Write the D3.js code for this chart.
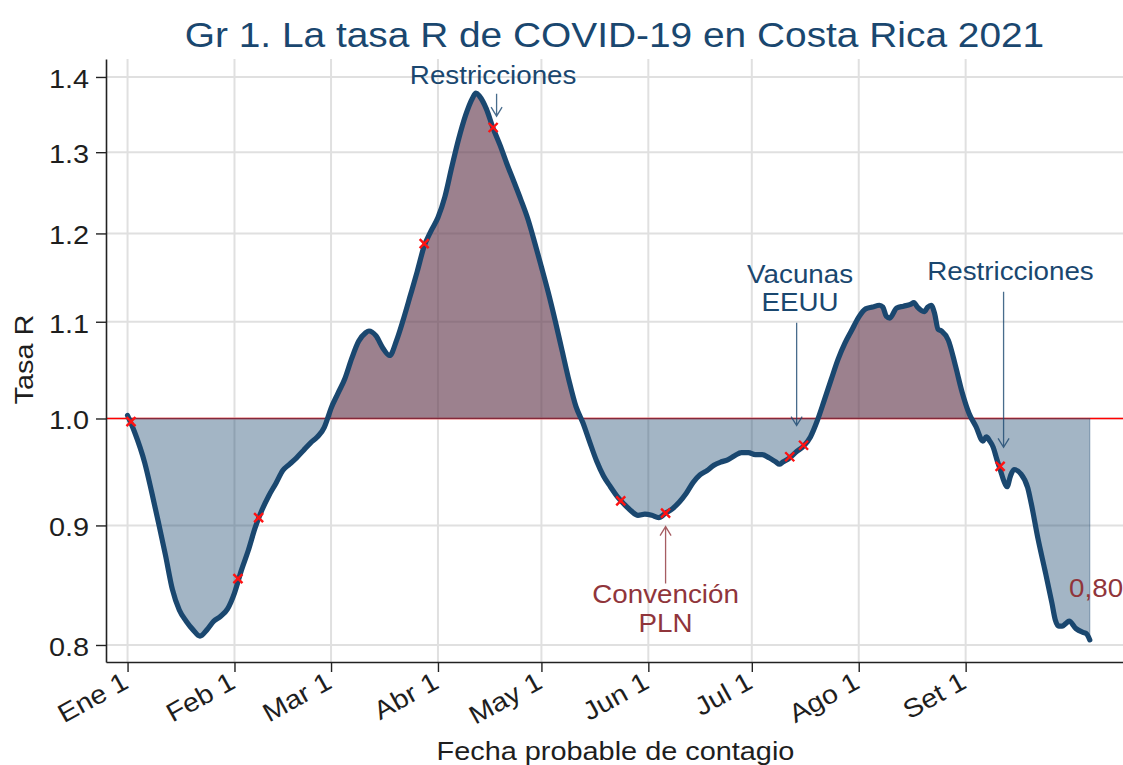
<!DOCTYPE html>
<html>
<head>
<meta charset="utf-8">
<script src="https://cdn.jsdelivr.net/npm/d3@7"></script>
<style>
  body { margin: 0; background: #fff; }
  text { font-family: "Liberation Sans", Arial, sans-serif; }
</style>
</head>
<body>
<svg id="chart" width="1123" height="765"></svg>
<script>
// fecha probable de contagio y tasa R
const dates = [
  '2021-01-01','2021-01-03','2021-01-06','2021-01-08','2021-01-10','2021-01-12','2021-01-14','2021-01-16',
  '2021-01-18','2021-01-20','2021-01-22','2021-01-24','2021-01-26','2021-01-28','2021-01-30','2021-02-01',
  '2021-02-03','2021-02-05','2021-02-07','2021-02-09','2021-02-11','2021-02-13','2021-02-15','2021-02-17',
  '2021-02-19','2021-02-21','2021-02-23','2021-02-25','2021-02-27','2021-02-28','2021-03-01','2021-03-03',
  '2021-03-05','2021-03-07','2021-03-09','2021-03-11','2021-03-12','2021-03-14','2021-03-16','2021-03-18',
  '2021-03-20','2021-03-22','2021-03-24','2021-03-26','2021-03-28','2021-03-30','2021-04-01','2021-04-03',
  '2021-04-05','2021-04-07','2021-04-09','2021-04-11','2021-04-12','2021-04-13','2021-04-15','2021-04-17',
  '2021-04-19','2021-04-21','2021-04-23','2021-04-25','2021-04-27','2021-04-29','2021-05-01','2021-05-03',
  '2021-05-05','2021-05-07','2021-05-09','2021-05-11','2021-05-13','2021-05-15','2021-05-17','2021-05-19',
  '2021-05-21','2021-05-23','2021-05-25','2021-05-27','2021-05-29','2021-05-31','2021-06-02','2021-06-04',
  '2021-06-06','2021-06-08','2021-06-10','2021-06-12','2021-06-14','2021-06-16','2021-06-18','2021-06-20',
  '2021-06-22','2021-06-24','2021-06-26','2021-06-28','2021-06-30','2021-07-02','2021-07-04','2021-07-06',
  '2021-07-08','2021-07-09','2021-07-10','2021-07-12','2021-07-14','2021-07-16','2021-07-18','2021-07-20',
  '2021-07-22','2021-07-24','2021-07-26','2021-07-28','2021-07-30','2021-08-01','2021-08-03','2021-08-05',
  '2021-08-07','2021-08-08','2021-08-09','2021-08-10','2021-08-12','2021-08-14','2021-08-16','2021-08-17',
  '2021-08-18','2021-08-20','2021-08-21','2021-08-22','2021-08-23','2021-08-24','2021-08-25','2021-08-27',
  '2021-08-29','2021-08-31','2021-09-02','2021-09-04','2021-09-06','2021-09-07','2021-09-08','2021-09-09',
  '2021-09-10','2021-09-11','2021-09-12','2021-09-13','2021-09-14','2021-09-15','2021-09-17','2021-09-19',
  '2021-09-20','2021-09-22','2021-09-24','2021-09-26','2021-09-27','2021-09-28','2021-09-29','2021-09-30',
  '2021-10-01','2021-10-03','2021-10-05','2021-10-06','2021-10-07'
];
const rValues = [
  1.003,0.987,0.957,0.930,0.902,0.874,0.845,0.828,
  0.819,0.812,0.807,0.812,0.819,0.823,0.829,0.842,
  0.861,0.878,0.898,0.914,0.927,0.938,0.950,0.956,
  0.962,0.969,0.976,0.982,0.991,1.000,1.010,1.025,
  1.040,1.061,1.079,1.088,1.090,1.085,1.072,1.064,
  1.080,1.103,1.129,1.156,1.185,1.203,1.219,1.244,
  1.281,1.317,1.348,1.371,1.378,1.374,1.357,1.331,
  1.309,1.285,1.263,1.241,1.218,1.190,1.161,1.132,
  1.101,1.069,1.038,1.012,0.996,0.977,0.959,0.945,
  0.935,0.926,0.919,0.913,0.909,0.910,0.909,0.907,
  0.911,0.915,0.921,0.929,0.939,0.946,0.950,0.955,
  0.958,0.960,0.964,0.967,0.967,0.965,0.965,0.962,
  0.958,0.956,0.958,0.962,0.968,0.973,0.982,0.998,
  1.018,1.039,1.060,1.077,1.091,1.105,1.114,1.116,
  1.118,1.116,1.106,1.104,1.115,1.117,1.119,1.121,
  1.116,1.111,1.116,1.118,1.109,1.092,1.090,1.080,
  1.054,1.026,1.005,0.992,0.978,0.982,0.978,0.972,
  0.961,0.951,0.941,0.935,0.945,0.951,0.947,0.934,
  0.920,0.888,0.861,0.834,0.820,0.815,0.815,0.817,
  0.819,0.813,0.810,0.809,0.804
];

// marcas rojas
const markDates = ['2021-01-02','2021-02-02','2021-02-08','2021-03-28','2021-04-17',
                   '2021-05-24','2021-06-06','2021-07-12','2021-07-16','2021-09-11'];
const markValues = [0.997,0.854,0.907,1.188,1.332,0.922,0.911,0.963,0.974,0.954];

const monthTicks = ['2021-01-01','2021-02-01','2021-03-01','2021-04-01','2021-05-01',
                    '2021-06-01','2021-07-01','2021-08-01','2021-09-01'];
const monthLabels = ['Ene 1','Feb 1','Mar 1','Abr 1','May 1','Jun 1','Jul 1','Ago 1','Set 1'];
const yTicks = [0.8, 0.9, 1.0, 1.1, 1.2, 1.3, 1.4];

// anotaciones
const noteText = [['Restricciones'], ['Vacunas', 'EEUU'], ['Restricciones'], ['Convención', 'PLN']];
const noteDates = ['2021-04-17','2021-07-15','2021-09-14','2021-06-06'];
const noteR = [1.391, 1.143, 1.146, 0.8335];
const arrowDates = ['2021-04-18','2021-07-14','2021-09-12','2021-06-06'];
const arrowFrom = [1.377, 1.099, 1.133, 0.850];
const arrowTo = [1.347, 0.993, 0.972, 0.899];
const lastLabelDate = '2021-10-01';
const lastLabelR = 0.8387;

const navy = '#1a476f';
const maroon = '#90353b';
const noteColor = [navy, navy, navy, maroon];

const parse = d3.utcParse('%Y-%m-%d');
const data = dates.map((d, i) => ({date: parse(d), r: rValues[i]}));

const svg = d3.select('#chart');
const width = +svg.attr('width');
const height = +svg.attr('height');
const margin = {top: 59, right: 0, bottom: 103, left: 106};
const innerW = width - margin.left - margin.right;
const innerH = height - margin.top - margin.bottom;
const g = svg.append('g').attr('transform', `translate(${margin.left},${margin.top})`);

const x = d3.scaleUtc()
  .domain([new Date('2020-12-25T18:00Z'), new Date('2021-10-16T15:00Z')])
  .range([0, innerW]);
const y = d3.scaleLog()
  .domain([0.7867, 1.425])
  .range([innerH, 0]);

// stretch text a bit wider, like the original rendering
function widen(sel) {
  sel.each(function() {
    const w = this.getComputedTextLength();
    this.setAttribute('textLength', w * 1.11);
    this.setAttribute('lengthAdjust', 'spacingAndGlyphs');
  });
}

// grid
g.append('g').selectAll('line').data(yTicks).join('line')
  .attr('x1', 0).attr('x2', innerW)
  .attr('y1', d => y(d)).attr('y2', d => y(d))
  .attr('stroke', '#e0e0e0').attr('stroke-width', 2);
g.append('g').selectAll('line').data(monthTicks.map(parse)).join('line')
  .attr('x1', d => x(d)).attr('x2', d => x(d))
  .attr('y1', 0).attr('y2', innerH)
  .attr('stroke', '#e0e0e0').attr('stroke-width', 2);

// linea R = 1
g.append('line')
  .attr('x1', 0).attr('x2', innerW)
  .attr('y1', y(1)).attr('y2', y(1))
  .attr('stroke', '#ff0000').attr('stroke-width', 1.6);

// areas
const area = d3.area()
  .x(d => x(d.date))
  .y0(y(1))
  .y1(d => y(d.r))
  .curve(d3.curveMonotoneX);

svg.append('defs').append('clipPath').attr('id', 'above')
  .append('rect').attr('x', 0).attr('y', 0).attr('width', innerW).attr('height', y(1));

g.append('path').datum(data)
  .attr('d', area)
  .attr('fill', navy).attr('fill-opacity', 0.4)
  .attr('stroke', navy).attr('stroke-opacity', 0.45).attr('stroke-width', 1);
g.append('path').datum(data)
  .attr('d', area)
  .attr('clip-path', 'url(#above)')
  .attr('fill', maroon).attr('fill-opacity', 0.4)
  .attr('stroke', maroon).attr('stroke-opacity', 0.45).attr('stroke-width', 1);

// curva
const line = d3.line()
  .x(d => x(d.date))
  .y(d => y(d.r))
  .curve(d3.curveMonotoneX);
g.append('path').datum(data)
  .attr('d', line)
  .attr('fill', 'none')
  .attr('stroke', navy).attr('stroke-width', 5.2)
  .attr('stroke-linejoin', 'round').attr('stroke-linecap', 'round');

// marcas
g.append('g').selectAll('path').data(markDates.map((d, i) => ({date: parse(d), r: markValues[i]})))
  .join('path')
  .attr('transform', d => `translate(${x(d.date)},${y(d.r)})`)
  .attr('d', 'M-4.5,-4.5L4.5,4.5M-4.5,4.5L4.5,-4.5')
  .attr('stroke', '#ff1212').attr('stroke-width', 2.4);

// flechas
arrowDates.forEach((d, i) => {
  const ax = x(parse(d));
  const y1 = y(arrowFrom[i]);
  const y2 = y(arrowTo[i]);
  const dir = y2 > y1 ? 1 : -1;
  const col = noteColor[i];
  g.append('path')
    .attr('d', `M${ax},${y1}L${ax},${y2}M${ax - 5.5},${y2 - 9 * dir}L${ax},${y2}L${ax + 5.5},${y2 - 9 * dir}`)
    .attr('fill', 'none')
    .attr('stroke', col).attr('stroke-width', 1.3).attr('stroke-opacity', 0.8);
});

// textos de anotacion
noteText.forEach((lines, i) => {
  const tx = x(parse(noteDates[i]));
  const ty = y(noteR[i]);
  lines.forEach((t, j) => {
    g.append('text')
      .attr('x', tx).attr('y', ty + j * 28.5)
      .attr('text-anchor', 'middle')
      .attr('font-size', 25)
      .attr('fill', noteColor[i])
      .text(t)
      .call(widen);
  });
});

const commaFmt = d3.formatLocale({decimal: ',', thousands: '.', grouping: [3], currency: ['', '']}).format('.2f');
g.append('text')
  .attr('x', x(parse(lastLabelDate))).attr('y', y(lastLabelR))
  .attr('font-size', 25)
  .attr('fill', maroon)
  .text(commaFmt(rValues[rValues.length - 1]))
  .call(widen);

// ejes
const yAxis = d3.axisLeft(y)
  .tickValues(yTicks)
  .tickFormat(d3.format('.1f'))
  .tickSize(10).tickSizeOuter(0).tickPadding(7);
const yAxisG = g.append('g').call(yAxis);
yAxisG.select('.domain').attr('stroke', '#222').attr('stroke-width', 1.6);
yAxisG.selectAll('.tick line').attr('stroke', '#222').attr('stroke-width', 1.4);
yAxisG.selectAll('.tick text')
  .attr('font-size', 26).attr('fill', '#1e1e1e')
  .attr('font-family', '"Liberation Sans", Arial, sans-serif')
  .attr('dy', '0.4em')
  .call(widen);

const xAxis = d3.axisBottom(x)
  .tickValues(monthTicks.map(parse))
  .tickFormat((d, i) => monthLabels[i])
  .tickSize(10).tickSizeOuter(0);
const xAxisG = g.append('g').attr('transform', `translate(0,${innerH})`).call(xAxis);
xAxisG.select('.domain').attr('stroke', '#222').attr('stroke-width', 1.6);
xAxisG.selectAll('.tick line').attr('stroke', '#222').attr('stroke-width', 1.4);
xAxisG.selectAll('.tick text')
  .attr('font-size', 26).attr('fill', '#1e1e1e')
  .attr('font-family', '"Liberation Sans", Arial, sans-serif')
  .attr('x', 0).attr('y', 0).attr('dy', 0)
  .attr('text-anchor', 'end')
  .attr('transform', 'translate(2,25) rotate(-29)')
  .call(widen);

// titulos
svg.append('text')
  .attr('x', margin.left + innerW / 2).attr('y', 47)
  .attr('text-anchor', 'middle')
  .attr('font-size', 35)
  .attr('fill', navy)
  .text('Gr 1. La tasa R de COVID-19 en Costa Rica 2021')
  .call(widen);

svg.append('text')
  .attr('x', margin.left + innerW / 2 + 1).attr('y', 760)
  .attr('text-anchor', 'middle')
  .attr('font-size', 26)
  .attr('fill', '#1e1e1e')
  .text('Fecha probable de contagio')
  .call(widen);

svg.append('text')
  .attr('transform', `translate(33,${margin.top + innerH / 2 - 1}) rotate(-90)`)
  .attr('text-anchor', 'middle')
  .attr('font-size', 26)
  .attr('fill', '#1e1e1e')
  .text('Tasa R')
  .call(widen);
</script>
</body>
</html>
